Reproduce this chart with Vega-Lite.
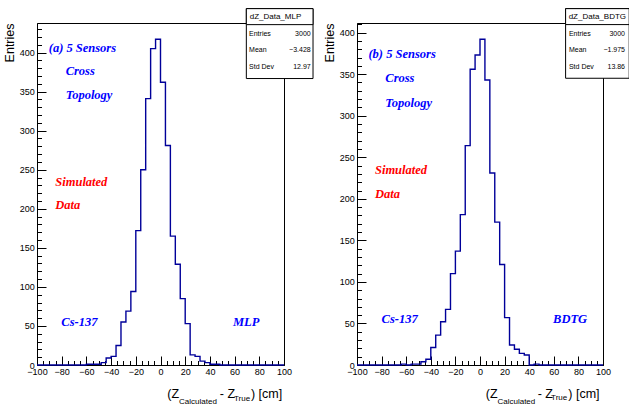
{
"$schema": "https://vega.github.io/schema/vega-lite/v6.json",
"padding": {"left": 2, "top": 7, "right": 0, "bottom": 0},
"spacing": 73,
"bounds": "flush",
"config": {
  "view": {"stroke": "black", "strokeWidth": 1},
  "axis": {"domainColor": "black", "tickColor": "black", "labelColor": "black", "labelFont": "Liberation Sans", "labelFontSize": 9, "grid": false, "titleFont": "Liberation Sans", "titleFontSize": 12.5, "titleFontWeight": "normal", "titleColor": "black"}
},
"datasets": {
  "h1": [
    {"x": -100, "y": 0}, {"x": -96, "y": 0}, {"x": -92, "y": 0}, {"x": -88, "y": 0}, {"x": -84, "y": 0},
    {"x": -80, "y": 0}, {"x": -76, "y": 0}, {"x": -72, "y": 0}, {"x": -68, "y": 0}, {"x": -64, "y": 0},
    {"x": -60, "y": 1}, {"x": -56, "y": 1}, {"x": -52, "y": 1}, {"x": -48, "y": 3}, {"x": -44, "y": 9},
    {"x": -40, "y": 11}, {"x": -36, "y": 25}, {"x": -32, "y": 55}, {"x": -28, "y": 69}, {"x": -24, "y": 94},
    {"x": -20, "y": 172}, {"x": -16, "y": 250}, {"x": -12, "y": 341}, {"x": -8, "y": 405}, {"x": -4, "y": 417},
    {"x": 0, "y": 362}, {"x": 4, "y": 281}, {"x": 8, "y": 165}, {"x": 12, "y": 129}, {"x": 16, "y": 85},
    {"x": 20, "y": 53}, {"x": 24, "y": 13}, {"x": 28, "y": 11}, {"x": 32, "y": 5}, {"x": 36, "y": 3},
    {"x": 40, "y": 1}, {"x": 44, "y": 1}, {"x": 48, "y": 0}, {"x": 52, "y": 0}, {"x": 56, "y": 0},
    {"x": 60, "y": 0}, {"x": 64, "y": 0}, {"x": 68, "y": 0}, {"x": 72, "y": 0}, {"x": 76, "y": 0},
    {"x": 80, "y": 0}, {"x": 84, "y": 0}, {"x": 88, "y": 0}, {"x": 92, "y": 0}, {"x": 96, "y": 0},
    {"x": 100, "y": 0}
  ],
  "h2": [
    {"x": -100, "y": 0}, {"x": -96, "y": 0}, {"x": -92, "y": 0}, {"x": -88, "y": 0}, {"x": -84, "y": 0},
    {"x": -80, "y": 0}, {"x": -76, "y": 0}, {"x": -72, "y": 0}, {"x": -68, "y": 0}, {"x": -64, "y": 1},
    {"x": -60, "y": 0}, {"x": -56, "y": 1}, {"x": -52, "y": 1}, {"x": -48, "y": 4}, {"x": -44, "y": 7},
    {"x": -40, "y": 21}, {"x": -36, "y": 36}, {"x": -32, "y": 52}, {"x": -28, "y": 67}, {"x": -24, "y": 110},
    {"x": -20, "y": 137}, {"x": -16, "y": 181}, {"x": -12, "y": 264}, {"x": -8, "y": 356}, {"x": -4, "y": 373},
    {"x": 0, "y": 392}, {"x": 4, "y": 343}, {"x": 8, "y": 231}, {"x": 12, "y": 172}, {"x": 16, "y": 121},
    {"x": 20, "y": 57}, {"x": 24, "y": 24}, {"x": 28, "y": 19}, {"x": 32, "y": 14}, {"x": 36, "y": 12},
    {"x": 40, "y": 0}, {"x": 44, "y": 1}, {"x": 48, "y": 0}, {"x": 52, "y": 0}, {"x": 56, "y": 0},
    {"x": 60, "y": 0}, {"x": 64, "y": 0}, {"x": 68, "y": 0}, {"x": 72, "y": 0}, {"x": 76, "y": 0},
    {"x": 80, "y": 0}, {"x": 84, "y": 0}, {"x": 88, "y": 0}, {"x": 92, "y": 0}, {"x": 96, "y": 0},
    {"x": 100, "y": 0}
  ],
  "b1": [
    {"x": 69.5, "x2": 123.5, "y": 456.2, "y2": 366.7},
    {"x": 69.5, "x2": 123.5, "y": 456.2, "y2": 435.7}
  ],
  "st1": [{"x": 93.1, "y": 446, "t": "dZ_Data_MLP"}],
  "sl1": [
    {"x": 71.7, "y": 423.7, "t": "Entries"},
    {"x": 71.7, "y": 403.3, "t": "Mean"},
    {"x": 71.7, "y": 381, "t": "Std Dev"}
  ],
  "sv1": [
    {"x": 121.6, "y": 423.7, "t": "3000"},
    {"x": 121.6, "y": 403.3, "t": "−3.428"},
    {"x": 121.6, "y": 381, "t": "12.97"}
  ],
  "ab1": [
    {"x": -90.5, "y": 405.4, "t": "(a) 5 Sensors"},
    {"x": -76.8, "y": 376, "t": "Cross"},
    {"x": -76.8, "y": 345, "t": "Topology"},
    {"x": -80.3, "y": 55.4, "t": "Cs-137"},
    {"x": 58.7, "y": 55.4, "t": "MLP"}
  ],
  "ar1": [
    {"x": -85.2, "y": 234.4, "t": "Simulated"},
    {"x": -85.2, "y": 205, "t": "Data"}
  ],
  "xm1": [
    {"x": 5.5, "y": -41.8, "t": "(Z"},
    {"x": 48, "y": -41.8, "t": "- Z"},
    {"x": 73.2, "y": -41.8, "t": ") [cm]"}
  ],
  "xs1": [
    {"x": 15, "y": -50.5, "t": "Calculated"},
    {"x": 59.5, "y": -46.7, "t": "True"}
  ],
  "b2": [
    {"x": 69.6, "x2": 121.3, "y": 428.9, "y2": 345.1},
    {"x": 69.6, "x2": 121.3, "y": 428.9, "y2": 409.7}
  ],
  "st2": [{"x": 95.4, "y": 419.3, "t": "dZ_Data_BDTG"}],
  "sl2": [
    {"x": 72.3, "y": 398.4, "t": "Entries"},
    {"x": 72.3, "y": 379.1, "t": "Mean"},
    {"x": 72.3, "y": 358.3, "t": "Std Dev"}
  ],
  "sv2": [
    {"x": 117.9, "y": 398.4, "t": "3000"},
    {"x": 117.9, "y": 379.1, "t": "−1.975"},
    {"x": 117.9, "y": 358.3, "t": "13.86"}
  ],
  "ab2": [
    {"x": -90.7, "y": 374.8, "t": "(b) 5 Sensors"},
    {"x": -77, "y": 345.1, "t": "Cross"},
    {"x": -77, "y": 315, "t": "Topology"},
    {"x": -80, "y": 55.7, "t": "Cs-137"},
    {"x": 59.4, "y": 55.7, "t": "BDTG"}
  ],
  "ar2": [
    {"x": -85.4, "y": 234.5, "t": "Simulated"},
    {"x": -85.4, "y": 205.6, "t": "Data"}
  ],
  "xm2": [
    {"x": 4.7, "y": -39.3, "t": "(Z"},
    {"x": 46.9, "y": -39.3, "t": "- Z"},
    {"x": 71.8, "y": -39.3, "t": ") [cm]"}
  ],
  "xs2": [
    {"x": 14.2, "y": -47.3, "t": "Calculated"},
    {"x": 57.8, "y": -42.4, "t": "True"}
  ]
},
"hconcat": [
  {
    "width": 247,
    "height": 342,
    "encoding": {
      "x": {"field": "x", "type": "quantitative",
        "scale": {"domain": [-100, 100], "nice": false, "zero": false},
        "axis": {"values": [-100,-95,-90,-85,-80,-75,-70,-65,-60,-55,-50,-45,-40,-35,-30,-25,-20,-15,-10,-5,0,5,10,15,20,25,30,35,40,45,50,55,60,65,70,75,80,85,90,95,100],
          "labelExpr": "datum.value % 20 === 0 ? datum.label : ''",
          "tickSize": {"condition": {"test": "datum.value % 20 === 0", "value": -9}, "value": -4.5},
          "labelPadding": 11.5, "labelFlush": false, "title": null}},
      "y": {"field": "y", "type": "quantitative",
        "scale": {"domain": [0, 437.8], "nice": false},
        "axis": {"values": [0,10,20,30,40,50,60,70,80,90,100,110,120,130,140,150,160,170,180,190,200,210,220,230,240,250,260,270,280,290,300,310,320,330,340,350,360,370,380,390,400,410,420,430],
          "labelExpr": "datum.value % 50 === 0 ? datum.label : ''",
          "tickSize": {"condition": {"test": "datum.value % 50 === 0", "value": -9}, "value": -4.5},
          "labelPadding": 11.8, "title": "Entries", "titleAnchor": "end", "titlePadding": 3}}
    },
    "layer": [
      {"data": {"name": "h1"}, "mark": {"type": "line", "interpolate": "step-after", "color": "#000099", "strokeWidth": 1.4}},
      {"data": {"name": "b1"}, "mark": {"type": "rect", "fill": "white", "stroke": "black", "strokeWidth": 1}, "encoding": {"x2": {"field": "x2"}, "y2": {"field": "y2"}}},
      {"data": {"name": "st1"}, "mark": {"type": "text", "font": "Liberation Sans", "fontSize": 8, "align": "center", "baseline": "middle", "color": "black"}, "encoding": {"text": {"field": "t"}}},
      {"data": {"name": "sl1"}, "mark": {"type": "text", "font": "Liberation Sans", "fontSize": 7, "align": "left", "baseline": "middle", "color": "black"}, "encoding": {"text": {"field": "t"}}},
      {"data": {"name": "sv1"}, "mark": {"type": "text", "font": "Liberation Sans", "fontSize": 7, "align": "right", "baseline": "middle", "color": "black"}, "encoding": {"text": {"field": "t"}}},
      {"data": {"name": "ab1"}, "mark": {"type": "text", "font": "Liberation Serif", "fontSize": 12.5, "fontStyle": "italic", "fontWeight": "bold", "align": "left", "baseline": "middle", "color": "#0000ff"}, "encoding": {"text": {"field": "t"}}},
      {"data": {"name": "ar1"}, "mark": {"type": "text", "font": "Liberation Serif", "fontSize": 12.5, "fontStyle": "italic", "fontWeight": "bold", "align": "left", "baseline": "middle", "color": "#ff0000"}, "encoding": {"text": {"field": "t"}}},
      {"data": {"name": "xm1"}, "mark": {"type": "text", "font": "Liberation Sans", "fontSize": 12.5, "align": "left", "baseline": "alphabetic", "color": "black"}, "encoding": {"text": {"field": "t"}}},
      {"data": {"name": "xs1"}, "mark": {"type": "text", "font": "Liberation Sans", "fontSize": 8, "align": "left", "baseline": "alphabetic", "color": "black"}, "encoding": {"text": {"field": "t"}}}
    ]
  },
  {
    "width": 246,
    "height": 342,
    "encoding": {
      "x": {"field": "x", "type": "quantitative",
        "scale": {"domain": [-100, 100], "nice": false, "zero": false},
        "axis": {"values": [-100,-95,-90,-85,-80,-75,-70,-65,-60,-55,-50,-45,-40,-35,-30,-25,-20,-15,-10,-5,0,5,10,15,20,25,30,35,40,45,50,55,60,65,70,75,80,85,90,95,100],
          "labelExpr": "datum.value % 20 === 0 ? datum.label : ''",
          "tickSize": {"condition": {"test": "datum.value % 20 === 0", "value": -9}, "value": -4.5},
          "labelPadding": 11.5, "labelFlush": false, "title": null}},
      "y": {"field": "y", "type": "quantitative",
        "scale": {"domain": [0, 411.6], "nice": false},
        "axis": {"values": [0,10,20,30,40,50,60,70,80,90,100,110,120,130,140,150,160,170,180,190,200,210,220,230,240,250,260,270,280,290,300,310,320,330,340,350,360,370,380,390,400,410],
          "labelExpr": "datum.value % 50 === 0 ? datum.label : ''",
          "tickSize": {"condition": {"test": "datum.value % 50 === 0", "value": -9}, "value": -4.5},
          "labelPadding": 11.8, "title": "Entries", "titleAnchor": "end", "titlePadding": 3}}
    },
    "layer": [
      {"data": {"name": "h2"}, "mark": {"type": "line", "interpolate": "step-after", "color": "#000099", "strokeWidth": 1.4}},
      {"data": {"name": "b2"}, "mark": {"type": "rect", "fill": "white", "stroke": "black", "strokeWidth": 1}, "encoding": {"x2": {"field": "x2"}, "y2": {"field": "y2"}}},
      {"data": {"name": "st2"}, "mark": {"type": "text", "font": "Liberation Sans", "fontSize": 8, "align": "center", "baseline": "middle", "color": "black"}, "encoding": {"text": {"field": "t"}}},
      {"data": {"name": "sl2"}, "mark": {"type": "text", "font": "Liberation Sans", "fontSize": 7, "align": "left", "baseline": "middle", "color": "black"}, "encoding": {"text": {"field": "t"}}},
      {"data": {"name": "sv2"}, "mark": {"type": "text", "font": "Liberation Sans", "fontSize": 7, "align": "right", "baseline": "middle", "color": "black"}, "encoding": {"text": {"field": "t"}}},
      {"data": {"name": "ab2"}, "mark": {"type": "text", "font": "Liberation Serif", "fontSize": 12.5, "fontStyle": "italic", "fontWeight": "bold", "align": "left", "baseline": "middle", "color": "#0000ff"}, "encoding": {"text": {"field": "t"}}},
      {"data": {"name": "ar2"}, "mark": {"type": "text", "font": "Liberation Serif", "fontSize": 12.5, "fontStyle": "italic", "fontWeight": "bold", "align": "left", "baseline": "middle", "color": "#ff0000"}, "encoding": {"text": {"field": "t"}}},
      {"data": {"name": "xm2"}, "mark": {"type": "text", "font": "Liberation Sans", "fontSize": 12.5, "align": "left", "baseline": "alphabetic", "color": "black"}, "encoding": {"text": {"field": "t"}}},
      {"data": {"name": "xs2"}, "mark": {"type": "text", "font": "Liberation Sans", "fontSize": 8, "align": "left", "baseline": "alphabetic", "color": "black"}, "encoding": {"text": {"field": "t"}}}
    ]
  }
]
}
